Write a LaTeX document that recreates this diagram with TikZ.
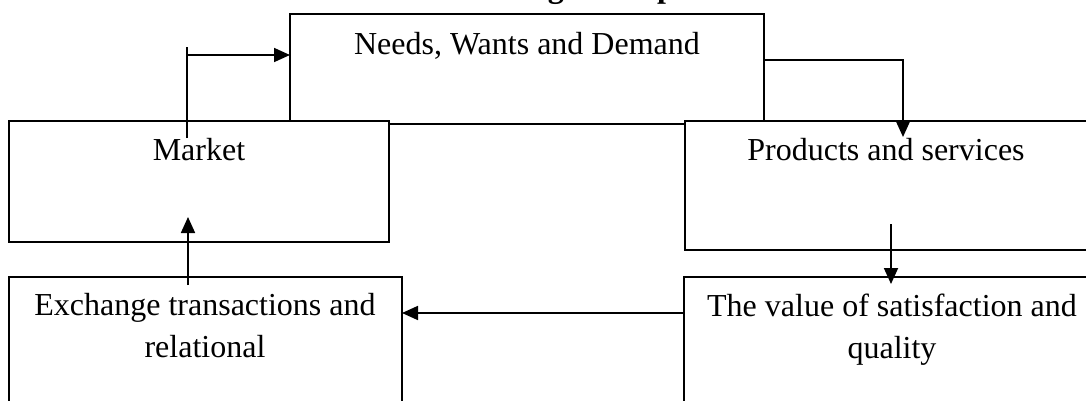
\documentclass[tikz,border=0pt]{standalone}
\usepackage{fontspec}
\setmainfont{Liberation Serif}
\usetikzlibrary{arrows.meta,calc}
\begin{document}
\begin{tikzpicture}[x=0.5pt,y=-0.5pt,
  box/.style={draw, line width=1pt, fill=white, inner sep=0pt, outer sep=0pt, rectangle},
  lbl/.style={inner sep=0pt, anchor=base, align=center, font=\fontsize{16}{21}\selectfont},
  ln/.style={line width=0.9pt},
  arr/.style={line width=0.9pt, -{Triangle[length=8pt,width=7pt]}}]
\useasboundingbox (0,0) rectangle (1086,401);
\clip (0,0) rectangle (1086,401);
\fill[white] (0,0) rectangle (1086,401);

% heading, mostly above the page edge
\node[font=\fontsize{16}{21}\selectfont\bfseries, inner sep=0pt, anchor=base] (title) at (558,-2) {Marketing Concepts};

% boxes
\node[box, minimum width=237pt, minimum height=55pt] (needs) at (527,69) {};
\node[box, minimum width=190pt, minimum height=60.5pt] (market) at (199,181.5) {};
\node[box, minimum width=201.5pt, minimum height=64.5pt] (products) at (886.5,185.5) {};
\node[box, minimum width=196.5pt, minimum height=76.5pt] (exch) at (205.5,353.5) {};
\node[box, minimum width=208pt, minimum height=76.5pt] (value) at (892,353.5) {};

% connectors
\coordinate (a1s) at ($(market.north west)+(178,17)$);
\coordinate (a1t) at ($(a1s)+(0,-83)$);
\draw[ln] (a1s) -- ++(0,-91);
\draw[arr] (a1t) -- (needs.west |- a1t);

\coordinate (a2s) at ($(needs.north east)+(0,46)$);
\coordinate (a2t) at ($(products.north west)+(218,16)$);
\draw[arr] (a2s) -| (a2t);

\coordinate (a3s) at ($(products.south west)+(206,-26)$);
\coordinate (a3t) at ($(value.north west)+(207,7)$);
\draw[arr] (a3s) -- (a3s |- a3t);

\coordinate (a4s) at ($(value.north west)+(0,36)$);
\draw[arr] (a4s) -- (a4s -| exch.east);

\coordinate (a5s) at ($(exch.north west)+(179,8)$);
\coordinate (a5t) at ($(market.south west)+(179,-25)$);
\draw[arr] (a5s) -- (a5t);

% box texts (base anchor of a two-line text is its last line)
\node[lbl] (needsT) at (527,55) {Needs, Wants and Demand};
\node[lbl] (marketT) at (199,161) {Market};
\node[lbl] (productsT) at (886,161) {Products and services};
\node[lbl] (exchT) at (205,357) {Exchange transactions and\\relational};
\node[lbl] (valueT) at (892,358) {The value of satisfaction and\\quality};
\end{tikzpicture}
\end{document}
